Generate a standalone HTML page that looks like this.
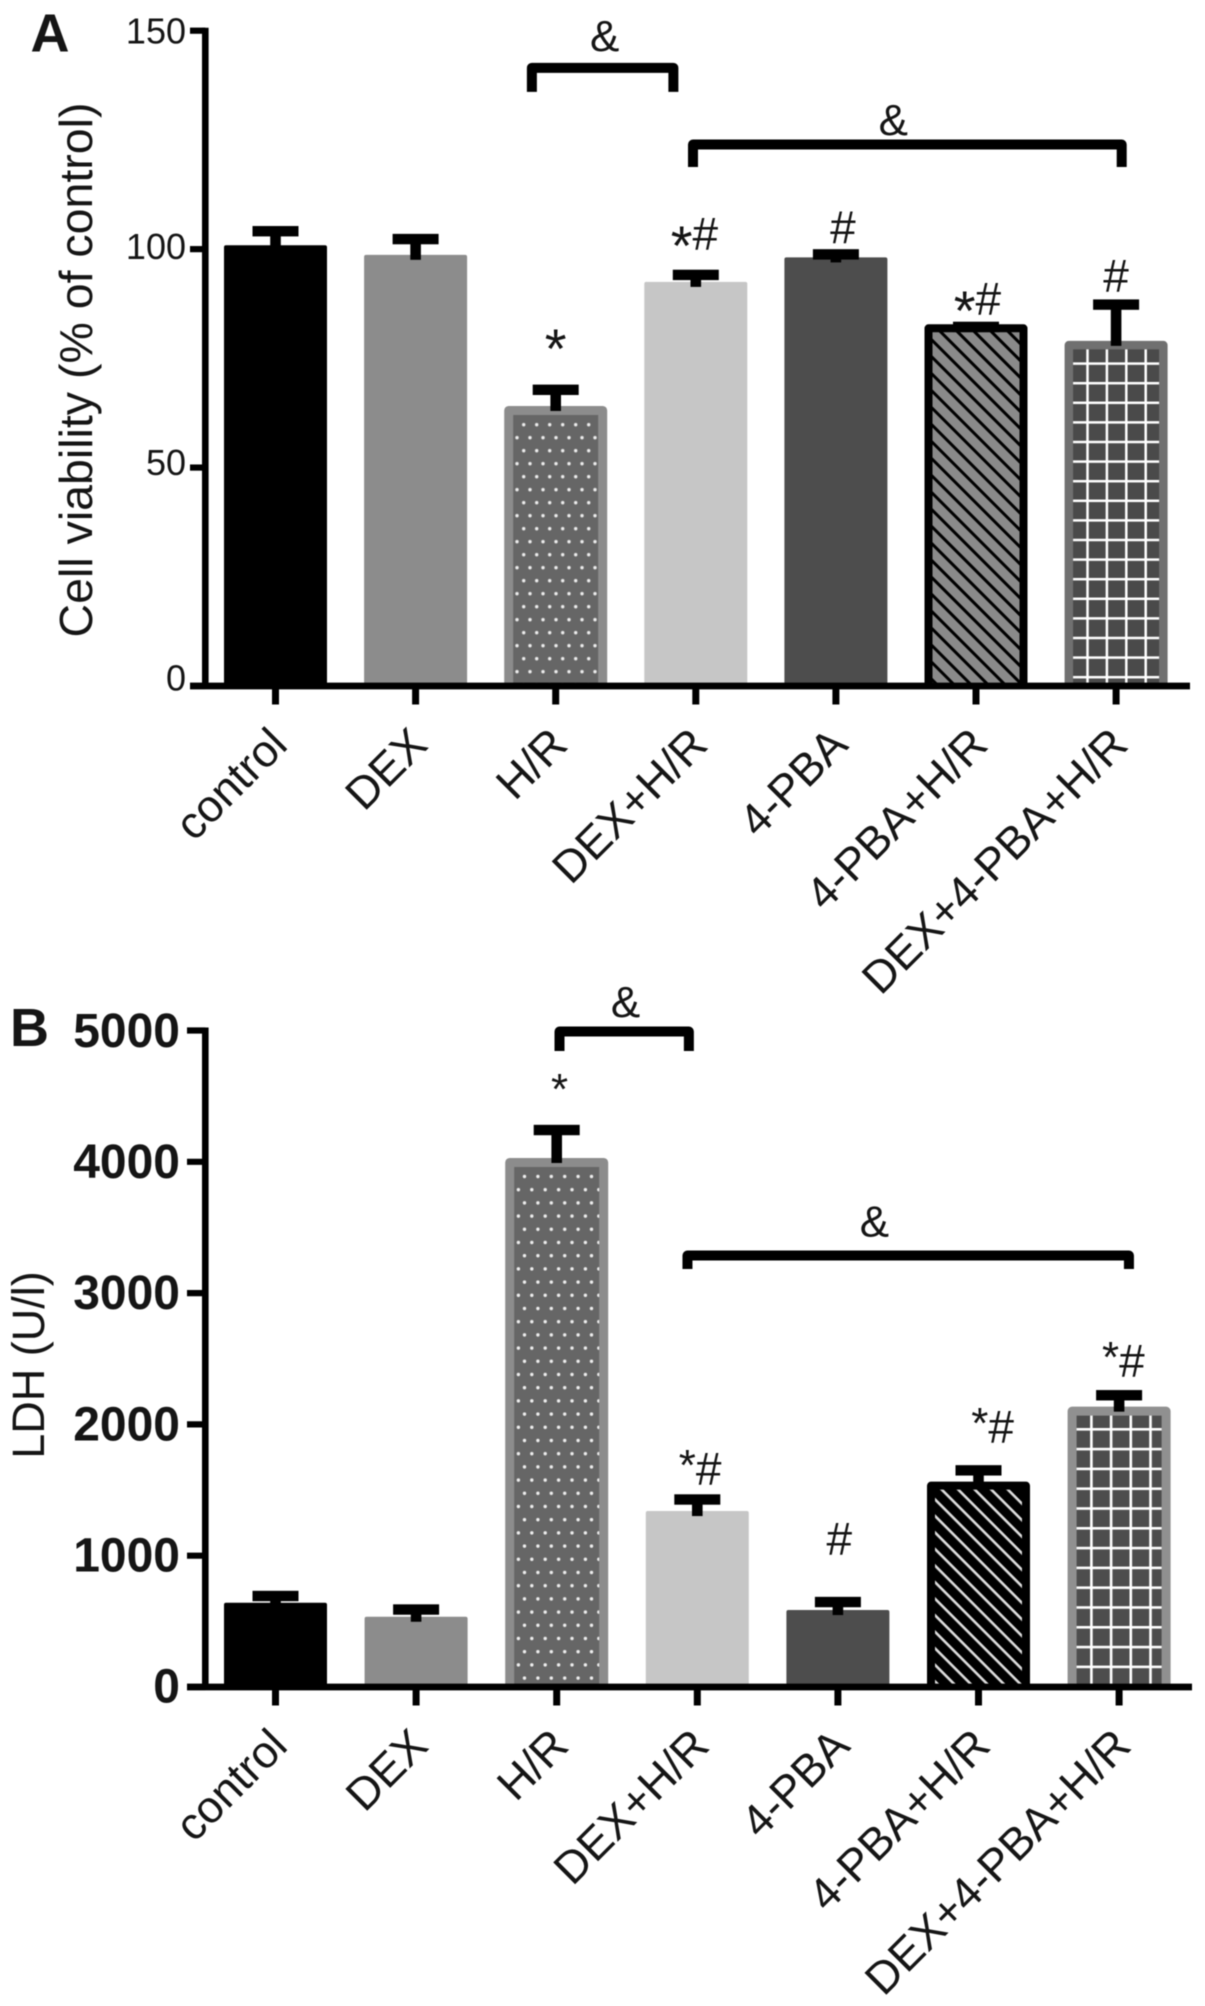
<!DOCTYPE html>
<html lang="en">
<head>
<meta charset="utf-8">
<title>Cell viability and LDH bar charts</title>
<style>
  html, body { margin: 0; padding: 0; background: #fff; }
  body { width: 1205px; height: 2006px; overflow: hidden; }
  svg { display: block; filter: blur(0.5px); }
  text { font-family: "Liberation Sans", Arial, sans-serif; fill: #151515; }
</style>
</head>
<body>
<svg id="figure" xmlns="http://www.w3.org/2000/svg" width="1205" height="2006" viewBox="0 0 1205 2006">
  <defs>
    <pattern id="dots-a" patternUnits="userSpaceOnUse" x="513.75" y="418.2" width="13" height="26">
      <rect width="13" height="26" fill="#666"/>
      <circle cx="9.95" cy="6.5" r="1.7" fill="#eee"/>
      <circle cx="3.25" cy="19.5" r="1.7" fill="#eee"/>
    </pattern>
    <pattern id="dots-b" patternUnits="userSpaceOnUse" x="515.1" y="1169.9" width="13.4" height="26.4">
      <rect width="13.4" height="26.4" fill="#666"/>
      <circle cx="9.4" cy="6.6" r="1.7" fill="#eee"/>
      <circle cx="3.3" cy="19.8" r="1.7" fill="#eee"/>
    </pattern>
    <pattern id="hatch-a" patternUnits="userSpaceOnUse" width="12" height="12" patternTransform="rotate(45)">
      <rect width="12" height="12" fill="#8a8a8a"/>
      <rect width="12" height="3" fill="#000"/>
    </pattern>
    <pattern id="hatch-b" patternUnits="userSpaceOnUse" width="11.7" height="11.7" patternTransform="rotate(45)">
      <rect width="11.7" height="11.7" fill="#000"/>
      <rect width="11.7" height="2.6" fill="#ddd"/>
    </pattern>
    <pattern id="grid-a" patternUnits="userSpaceOnUse" x="1086.25" y="362.35" width="19.4" height="19.6">
      <rect width="19.4" height="19.6" fill="#4a4a4a"/>
      <rect width="2.5" height="19.6" fill="#fff"/>
      <rect width="19.4" height="2.5" fill="#fff"/>
    </pattern>
    <pattern id="grid-b" patternUnits="userSpaceOnUse" x="1090.1" y="1428" width="19.7" height="19.8">
      <rect width="19.7" height="19.8" fill="#4d4d4d"/>
      <rect width="2.6" height="19.8" fill="#fff"/>
      <rect width="19.7" height="2.6" fill="#fff"/>
    </pattern>
  </defs>
  <text x="30.5" y="51.7" font-size="54" font-weight="700">A</text>
  <text x="10" y="1046" font-size="54" font-weight="700">B</text>
</svg>
<script>
// ---- Shared categories ----
const categories = ['control', 'DEX', 'H/R', 'DEX+H/R', '4-PBA', '4-PBA+H/R', 'DEX+4-PBA+H/R'];

// ---- Panel A: cell viability (% of control) ----
const viabilityTicks = [0, 50, 100, 150];
const viabilityValues = [100.9, 98.7, 64.1, 92.5, 98.1, 82.8, 79];
const viabilityErrorTops = [104.1, 102.3, 67.8, 94.1, 98.8, 82.2, 87.3];
const viabilitySigLabels = ['', '', '*', '*#', '#', '*#', '#'];
const viabilitySigLevels = [0, 0, 76.2, 99.8, 101.3, 84.9, 90.2];
const viabilitySigIndex = [0, 1, 2, 2.99, 4.05, 5.01, 6];
const viabilityBracketFrom = [1.83, 2.98];
const viabilityBracketTo = [2.84, 6.04];
const viabilityBracketLevels = [141.5, 123.95];
const viabilityBracketLabelIndex = [2.35, 4.41];
const viabilityBracketLabelLevels = [145.3, 126.1];

// ---- Panel B: LDH (U/l) ----
const ldhTicks = [0, 1000, 2000, 3000, 4000, 5000];
const ldhValues = [642, 535, 4029, 1340, 586, 1564, 2135];
const ldhErrorTops = [693, 590, 4242, 1428, 647, 1650, 2222];
const ldhSigLabels = ['', '', '*', '*#', '#', '*#', '*#'];
const ldhSigLevels = [0, 0, 4402, 1538, 1005, 1858, 2361];
const ldhSigIndex = [0, 1, 2.02, 3.02, 4.01, 5.1, 6.03];
const ldhBracketFrom = [2.02, 2.93];
const ldhBracketTo = [2.94, 6.07];
const ldhBracketLevels = [4992, 3286];
const ldhBracketLabelIndex = [2.49, 4.26];
const ldhBracketLabelLevels = [5103, 3431];

const NS = 'http://www.w3.org/2000/svg';
const figure = document.getElementById('figure');

function slug(s) {
  return s.toLowerCase().replace(/\+/g, '-plus-').replace(/\//g, '-').replace(/[^a-z0-9-]/g, '');
}

function make(tag, attrs, parent, text) {
  const el = document.createElementNS(NS, tag);
  for (const k in attrs) el.setAttribute(k, attrs[k]);
  if (text !== undefined) el.textContent = text;
  parent.appendChild(el);
  return el;
}

function drawPanel(p) {
  const group = make('g', {}, figure);
  
  

  const y = v => p.y0 + (v / p.max) * (p.yTop - p.y0);
  const x = i => p.x0 + i * p.step;
  const tickLabelY = v => p.labelY0 + (v / p.max) * (p.labelYTop - p.labelY0);
  const axisX = 205.3;

  // Bars
  p.values.forEach((v, i) => {
    const s = p.barStyles[i];
    const inset = s.width / 2;
    const left = x(i) - 51.5 + inset;
    const right = x(i) + 51.5 - inset;
    const top = y(v) + inset;
    const d = 'M' + left + ' ' + p.y0 + ' V' + top + ' H' + right + ' V' + p.y0;
    const bar = make('path', { d: d, fill: s.fill, stroke: s.stroke, 'stroke-width': s.width, 'stroke-linejoin': 'round' }, group);
    
    
  });

  // Error bars
  p.errorTops.forEach((v, i) => {
    const stemBottom = y(p.values[i]) + 5;
    const stem = make('rect', { x: x(i) - 5.3, y: y(v), width: 10.6, height: Math.max(0, stemBottom - y(v)), fill: '#000' }, group);
    
    
    const cap = make('rect', { x: x(i) - 23, y: y(v) - 5.2, width: 46, height: 10.4, fill: '#000' }, group);
    
    
  });

  // Y axis
  const yAxis = make('line', { x1: axisX, x2: axisX, y1: y(p.max) - 3, y2: p.y0 + 3, stroke: '#000', 'stroke-width': 6.6 }, group);
  
  
  p.ticks.forEach(t => {
    const tick = make('line', { x1: p.tickLeft, x2: axisX, y1: y(t), y2: y(t), stroke: '#000', 'stroke-width': 6.2 }, group);
    
    
    const label = make('text', { x: p.tickLabelX, y: tickLabelY(t), 'text-anchor': 'end', 'font-size': p.tickFont, 'font-weight': p.tickWeight }, group, String(t));
    
    
  });
  const yTitle = make('text', { transform: 'translate(' + p.titleX + ' ' + p.titleY + ') rotate(-90)', 'text-anchor': 'middle', 'font-size': p.titleFont }, group, p.title);
  
  

  // X axis
  const xAxis = make('line', { x1: p.tickLeft, x2: p.axisRight, y1: p.y0, y2: p.y0, stroke: '#000', 'stroke-width': 6.8 }, group);
  
  
  categories.forEach((c, i) => {
    const tick = make('line', { x1: x(i), x2: x(i), y1: p.y0, y2: p.y0 + 18.5, stroke: '#000', 'stroke-width': 7 }, group);
    
    
    const ax = x(i) + 14;
    const ay = p.y0 + 61;
    const label = make('text', { transform: 'translate(' + ax + ' ' + ay + ') rotate(-45)', 'text-anchor': 'end', 'font-size': 45 }, group, c);
    
    
  });

  // Significance labels
  p.sigLabels.forEach((s, i) => {
    if (!s) return;
    const label = make('text', { x: x(p.sigIndex[i]), y: y(p.sigLevels[i]), 'text-anchor': 'middle', 'font-size': 46 }, group);
    
    
    let shift = 0;
    if (s.includes('*')) {
      make('tspan', { 'font-size': p.starFont, dy: p.starDrop }, label, '*');
      shift = p.starDrop;
    }
    if (s.includes('#')) {
      make('tspan', { dy: -shift, 'font-size': 46 }, label, '#');
    }
  });

  // Comparison brackets
  p.bracketFrom.forEach((from, i) => {
    const left = x(from);
    const right = x(p.bracketTo[i]);
    const level = y(p.bracketLevels[i]);
    const end = level + p.legLength[i];
    const d = 'M' + left + ' ' + end + ' V' + level + ' H' + right + ' V' + end;
    const bracket = make('path', { d: d, fill: 'none', stroke: '#000', 'stroke-width': 10, 'stroke-linejoin': 'round' }, group);
    
    
    const mark = make('text', { x: x(p.bracketLabelIndex[i]), y: y(p.bracketLabelLevels[i]), 'text-anchor': 'middle', 'font-size': 44 }, group, '&');
    
    
  });
}

drawPanel({
  name: 'cell-viability-chart',
  title: 'Cell viability (% of control)',
  titleX: 92, titleY: 370, titleFont: 46.5,
  max: 150, y0: 686, yTop: 30.7,
  labelY0: 690.7, labelYTop: 43.3,
  x0: 275.5, step: 140.1, tickLeft: 190, axisRight: 1190,
  tickLabelX: 186, tickFont: 36, tickWeight: 400,
  ticks: viabilityTicks, values: viabilityValues, errorTops: viabilityErrorTops,
  sigLabels: viabilitySigLabels, sigLevels: viabilitySigLevels, sigIndex: viabilitySigIndex,
  starFont: 56, starDrop: 15,
  bracketFrom: viabilityBracketFrom, bracketTo: viabilityBracketTo, bracketLevels: viabilityBracketLevels,
  legLength: [24, 22.5],
  bracketLabelIndex: viabilityBracketLabelIndex, bracketLabelLevels: viabilityBracketLabelLevels,
  barStyles: [
    { fill: '#000', stroke: '#000', width: 4 },
    { fill: '#8c8c8c', stroke: '#8c8c8c', width: 4 },
    { fill: 'url(#dots-a)', stroke: '#8c8c8c', width: 9 },
    { fill: '#c6c6c6', stroke: '#c6c6c6', width: 4 },
    { fill: '#4d4d4d', stroke: '#4d4d4d', width: 4 },
    { fill: 'url(#hatch-a)', stroke: '#000', width: 8 },
    { fill: 'url(#grid-a)', stroke: '#707070', width: 8.5 }
  ]
});

drawPanel({
  name: 'ldh-chart',
  title: 'LDH (U/l)',
  titleX: 44, titleY: 1365, titleFont: 45,
  max: 5000, y0: 1687, yTop: 1030.5,
  labelY0: 1702.5, labelYTop: 1047,
  x0: 275.5, step: 140.6, tickLeft: 187, axisRight: 1192,
  tickLabelX: 180, tickFont: 48, tickWeight: 700,
  ticks: ldhTicks, values: ldhValues, errorTops: ldhErrorTops,
  sigLabels: ldhSigLabels, sigLevels: ldhSigLevels, sigIndex: ldhSigIndex,
  starFont: 44, starDrop: -5,
  bracketFrom: ldhBracketFrom, bracketTo: ldhBracketTo, bracketLevels: ldhBracketLevels,
  legLength: [19.5, 13.5],
  bracketLabelIndex: ldhBracketLabelIndex, bracketLabelLevels: ldhBracketLabelLevels,
  barStyles: [
    { fill: '#000', stroke: '#000', width: 4 },
    { fill: '#8c8c8c', stroke: '#8c8c8c', width: 4 },
    { fill: 'url(#dots-b)', stroke: '#8c8c8c', width: 9 },
    { fill: '#c6c6c6', stroke: '#c6c6c6', width: 4 },
    { fill: '#4d4d4d', stroke: '#4d4d4d', width: 4 },
    { fill: 'url(#hatch-b)', stroke: '#000', width: 8 },
    { fill: 'url(#grid-b)', stroke: '#909090', width: 9 }
  ]
});
</script>
</body>
</html>
